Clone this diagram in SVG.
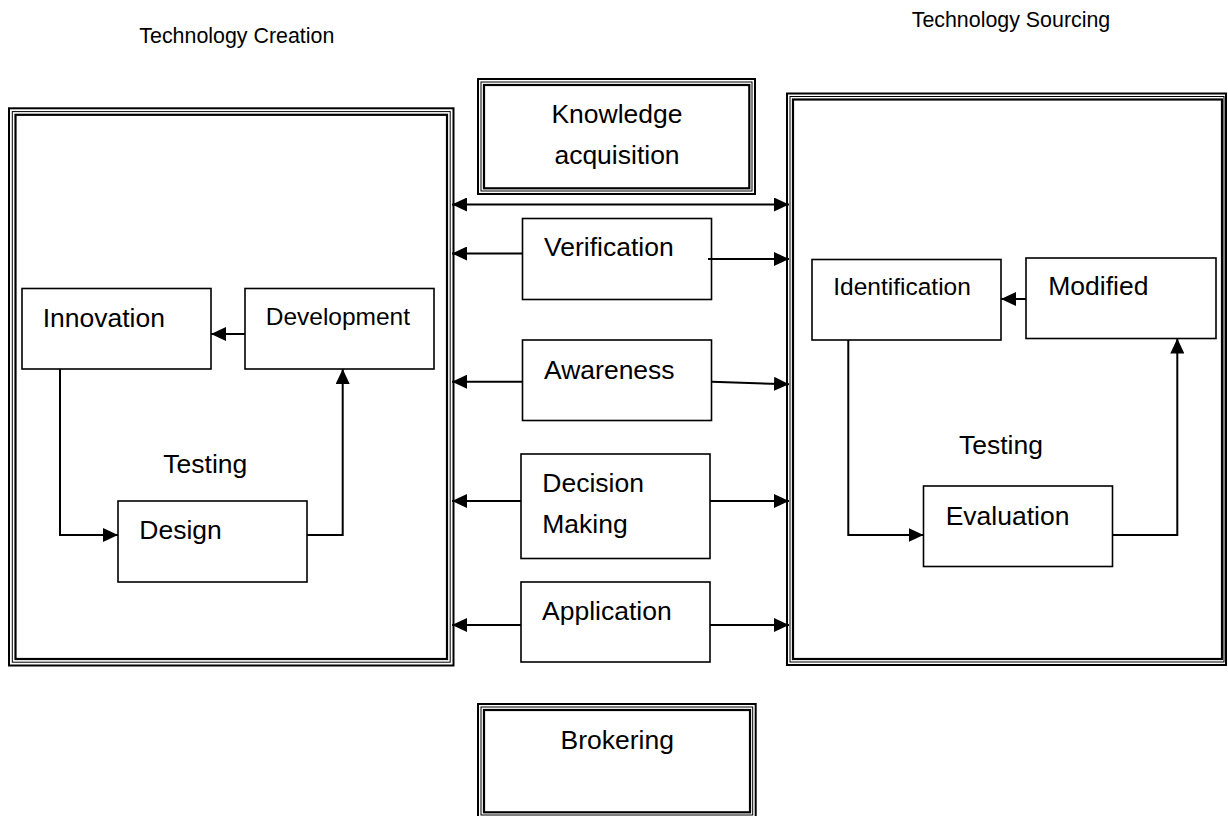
<svg xmlns="http://www.w3.org/2000/svg" width="1228" height="816" viewBox="0 0 1228 816">
  <style>
    .t { font-family: "Liberation Sans", Arial, sans-serif; fill: #000; }
    .lg { font-size: 26.5px; }
    .sm { font-size: 24.5px; }
    .hd { font-size: 21.4px; }
    .box { fill: #fff; stroke: #000; stroke-width: 1.6; }
    .bo { fill: none; stroke: #000; stroke-width: 2; }
    .bm { fill: none; stroke: #000; stroke-width: 1; }
    .bi { fill: none; stroke: #000; stroke-width: 2.2; }
    .link { fill: none; stroke: #000; stroke-width: 2; }
  </style>
  <defs>
    <marker id="arrow" markerUnits="userSpaceOnUse" markerWidth="16" markerHeight="14"
            refX="15" refY="7" orient="auto-start-reverse">
      <path d="M0,0 L15,7 L0,14 z" fill="#000"/>
    </marker>
  </defs>

  <rect width="1228" height="816" fill="#fff"/>

  <!-- section headings -->
  <text class="t hd" x="139.3" y="42.7">Technology Creation</text>
  <text class="t hd" x="911.7" y="26.7">Technology Sourcing</text>

  <!-- Technology Creation frame (triple border) -->
  <g id="creation-frame">
    <rect class="bo" x="9" y="108.3" width="444.5" height="557.2"/>
    <rect class="bm" x="12.3" y="111.6" width="437.9" height="550.6"/>
    <rect class="bi" x="15.5" y="114.8" width="431.5" height="544.2"/>
  </g>

  <!-- Technology Sourcing frame (triple border) -->
  <g id="sourcing-frame">
    <rect class="bo" x="787" y="93.5" width="439" height="571.5"/>
    <rect class="bm" x="790" y="96.5" width="434" height="565.5"/>
    <rect class="bi" x="793" y="99.5" width="429" height="559.5"/>
  </g>

  <!-- Knowledge acquisition -->
  <g id="knowledge">
    <rect class="bo" x="478" y="79" width="277" height="115"/>
    <rect class="bm" x="481" y="82" width="271" height="109"/>
    <rect class="bi" x="484" y="85" width="265.3" height="103.3"/>
    <text class="t lg" x="617" y="122.7" text-anchor="middle">Knowledge</text>
    <text class="t lg" x="617" y="163.5" text-anchor="middle">acquisition</text>
  </g>

  <!-- Brokering -->
  <g id="brokering">
    <rect class="bo" x="478" y="704" width="277.7" height="116"/>
    <rect class="bm" x="481" y="707" width="271.7" height="108"/>
    <rect class="bi" x="484" y="710" width="266" height="102.3"/>
    <text class="t lg" x="617.2" y="749.3" text-anchor="middle">Brokering</text>
  </g>

  <!-- central stages -->
  <g id="verification">
    <rect class="box" x="522.5" y="218.5" width="189" height="81"/>
    <text class="t lg" x="544" y="255.7">Verification</text>
  </g>
  <g id="awareness">
    <rect class="box" x="522.5" y="340" width="189" height="80.5"/>
    <text class="t lg" x="544" y="379">Awareness</text>
  </g>
  <g id="decision-making">
    <rect class="box" x="521" y="454" width="189" height="104.5"/>
    <text class="t lg" x="542.3" y="491.7">Decision</text>
    <text class="t lg" x="542.3" y="533.3">Making</text>
  </g>
  <g id="application">
    <rect class="box" x="521" y="582" width="189" height="80"/>
    <text class="t lg" x="542" y="620">Application</text>
  </g>

  <!-- creation cycle -->
  <g id="innovation">
    <rect class="box" x="22" y="288.5" width="189" height="80.5"/>
    <text class="t lg" x="42.7" y="327.3">Innovation</text>
  </g>
  <g id="development">
    <rect class="box" x="245" y="288.5" width="189" height="80.5"/>
    <text class="t sm" x="265.7" y="325">Development</text>
  </g>
  <g id="design">
    <rect class="box" x="118" y="501" width="189" height="81"/>
    <text class="t lg" x="139.3" y="539.3">Design</text>
  </g>
  <g id="testing-creation">
    <text class="t lg" x="163.3" y="472.7">Testing</text>
  </g>

  <!-- sourcing cycle -->
  <g id="identification">
    <rect class="box" x="812" y="259.5" width="189" height="80.5"/>
    <text class="t sm" x="833.3" y="295">Identification</text>
  </g>
  <g id="modified">
    <rect class="box" x="1026" y="258" width="190" height="80.5"/>
    <text class="t lg" x="1048.3" y="295">Modified</text>
  </g>
  <g id="evaluation">
    <rect class="box" x="923.5" y="486" width="189" height="80.5"/>
    <text class="t lg" x="945.7" y="525">Evaluation</text>
  </g>
  <g id="testing-sourcing">
    <text class="t lg" x="959" y="454.3">Testing</text>
  </g>

  <!-- connectors -->
  <g id="connectors">
    <line class="link" x1="452" y1="204.5" x2="789" y2="204.5" marker-start="url(#arrow)" marker-end="url(#arrow)"/>

    <line class="link" x1="522.5" y1="253.5" x2="452" y2="253.5" marker-end="url(#arrow)"/>
    <line class="link" x1="708" y1="259" x2="789" y2="259" marker-end="url(#arrow)"/>

    <line class="link" x1="522.5" y1="381.7" x2="452" y2="381.7" marker-end="url(#arrow)"/>
    <line class="link" x1="711.5" y1="381.7" x2="789" y2="384.3" marker-end="url(#arrow)"/>

    <line class="link" x1="521" y1="501" x2="452" y2="501" marker-end="url(#arrow)"/>
    <line class="link" x1="710" y1="501" x2="789" y2="501" marker-end="url(#arrow)"/>

    <line class="link" x1="521" y1="625" x2="452" y2="625" marker-end="url(#arrow)"/>
    <line class="link" x1="710" y1="625" x2="789" y2="625" marker-end="url(#arrow)"/>

    <line class="link" x1="245" y1="334" x2="211" y2="334" marker-end="url(#arrow)"/>
    <polyline class="link" points="60,369 60,535 118,535" marker-end="url(#arrow)"/>
    <polyline class="link" points="307,535 342.7,535 342.7,369" marker-end="url(#arrow)"/>

    <line class="link" x1="1026" y1="299" x2="1001" y2="299" marker-end="url(#arrow)"/>
    <polyline class="link" points="848.3,340 848.3,535 923.5,535" marker-end="url(#arrow)"/>
    <polyline class="link" points="1112.5,535 1177.3,535 1177.3,338.5" marker-end="url(#arrow)"/>
  </g>
</svg>
